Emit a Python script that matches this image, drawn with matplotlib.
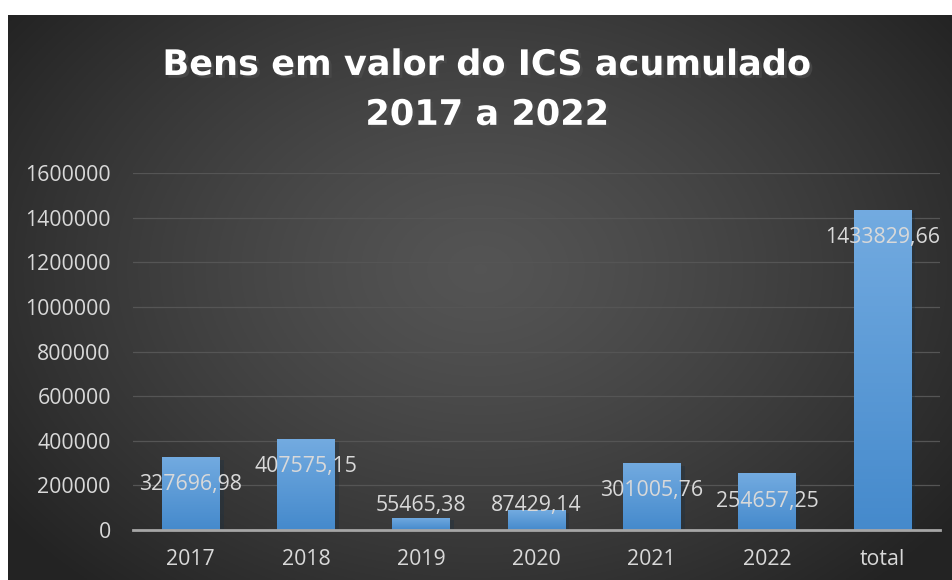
import numpy as np
import matplotlib
matplotlib.use("Agg")
import matplotlib.pyplot as plt
import matplotlib.patheffects as pe

# data
categories = ["2017", "2018", "2019", "2020", "2021", "2022", "total"]
values = [327696.98, 407575.15, 55465.38, 87429.14, 301005.76, 254657.25, 1433829.66]
labels = ["327696,98", "407575,15", "55465,38", "87429,14", "301005,76", "254657,25", "1433829,66"]
yticks = [0, 200000, 400000, 600000, 800000, 1000000, 1200000, 1400000, 1600000]

W, H = 953, 580
fig = plt.figure(figsize=(W / 100, H / 100), dpi=100, facecolor="white")

# dark radial gradient panel
bg = fig.add_axes([8 / W, 0, 1 - 8 / W, 1 - 15 / H], zorder=0)
yy, xx = np.mgrid[0:1:300j, 0:1:500j]
r = np.sqrt(((xx - 0.5) / 0.62) ** 2 + ((yy - 0.45) / 0.75) ** 2)
r = np.clip(r, 0, 1)
c = 0.33 - 0.19 * r ** 1.3
bg.imshow(np.dstack([c, c, c]), extent=[0, 1, 0, 1], aspect="auto", origin="upper")
bg.set_axis_off()

ax = fig.add_axes([133 / W, 50 / H, 807 / W, 357 / H], zorder=1)
ax.patch.set_alpha(0)

x = np.arange(len(categories))
bars = ax.bar(x, values, width=0.5, color="#5b9bd5", zorder=3,
              path_effects=[pe.SimplePatchShadow(offset=(3, -2), alpha=0.35), pe.Normal()])

# vertical gradient fill on each bar
grad = np.linspace(0, 1, 100).reshape(-1, 1)
top_c = np.array([0.45, 0.67, 0.88])
bot_c = np.array([0.27, 0.54, 0.80])
img = top_c * (1 - grad[..., None]) + bot_c * grad[..., None]
img = img.reshape(100, 1, 3)
for b in bars:
    im = ax.imshow(img, extent=[b.get_x(), b.get_x() + b.get_width(), 0, b.get_height()],
                   aspect="auto", origin="upper", zorder=3.5)
    im.set_clip_path(b)

ax.set_xlim(-0.5, len(categories) - 0.5)
ax.set_ylim(0, 1600000)
ax.set_yticks(yticks)
ax.set_yticklabels([str(t) for t in yticks])
ax.set_xticks(x)
ax.set_xticklabels(categories)

ax.grid(axis="y", color="#555555", linewidth=0.9, zorder=1)
ax.set_axisbelow(True)
for s in ["top", "right", "left"]:
    ax.spines[s].set_visible(False)
ax.spines["bottom"].set_color("#a6a6a6")
ax.spines["bottom"].set_linewidth(2)
ax.spines["bottom"].set_zorder(5)
ax.tick_params(axis="both", length=0, labelcolor="#d9d9d9", labelsize=15.3)
ax.tick_params(axis="y", pad=16)
ax.tick_params(axis="x", pad=14)
for t in ax.get_xticklabels() + ax.get_yticklabels():
    t.set_fontfamily("Open Sans")

for xi, v, lab in zip(x, values, labels):
    ly = max(v - 125000, 112000)
    ax.text(xi, ly, lab, ha="center", va="center", color="#d9d9d9",
            fontsize=15.3, fontfamily="Open Sans", zorder=6)

shadow = [pe.SimplePatchShadow(offset=(2, -2), alpha=0.7), pe.Normal()]
fig.text(0.511, 0.888, "Bens em valor do ICS acumulado", ha="center", va="center",
         color="white", fontsize=25.3, fontweight="bold", fontfamily="DejaVu Sans",
         path_effects=shadow)
fig.text(0.511, 0.802, "2017 a 2022", ha="center", va="center",
         color="white", fontsize=25.3, fontweight="bold", fontfamily="DejaVu Sans",
         path_effects=shadow)

fig.savefig("out.png", dpi=100, facecolor="white")
